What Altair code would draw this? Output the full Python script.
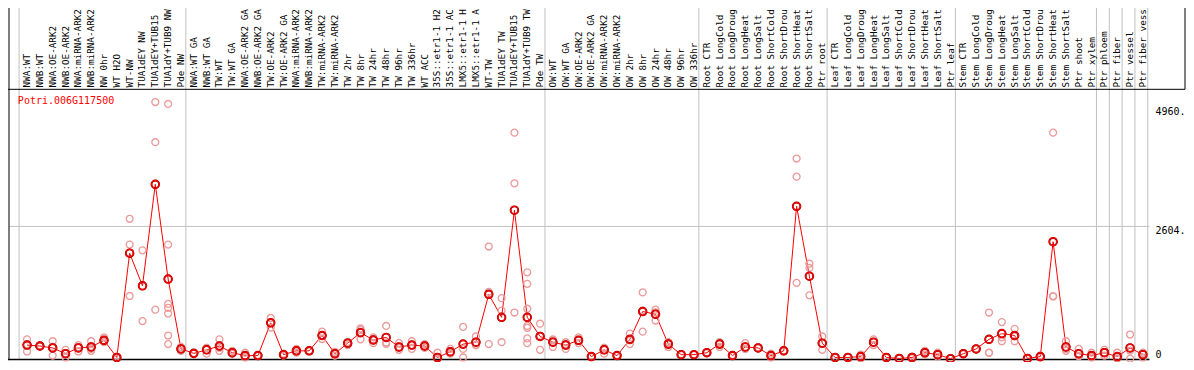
import altair as alt
import pandas as pd

# ---------------- data ----------------
categories = [
    "NWA:WT", "NWB:WT", "NWA:OE-ARK2", "NWB:OE-ARK2", "NWA:miRNA-ARK2", "NWB:miRNA-ARK2",
    "NW 0hr", "WT H2O", "WT-NW", "TUA1dEY NW", "TUA1dEY+TUB15", "TUA1dY+TUB9 NW", "Pde NW",
    "NWA:WT GA", "NWB:WT GA", "TW:WT", "TW:WT GA", "NWA:OE-ARK2 GA", "NWB:OE-ARK2 GA",
    "TW:OE-ARK2", "TW:OE-ARK2 GA", "NWA:miRNA-ARK2", "NWB:miRNA-ARK2", "TW:miRNA-ARK2",
    "TW:miRNA-ARK2", "TW 2hr", "TW 8hr", "TW 24hr", "TW 48hr", "TW 96hr", "TW 336hr",
    "WT ACC", "35S::etr1-1 H2", "35S::etr1-1 AC", "LMX5::etr1-1 H", "LMX5::etr1-1 A",
    "WT-TW", "TUA1dEY TW", "TUA1dEY+TUB15", "TUA1dY+TUB9 TW", "Pde TW",
    "OW:WT", "OW:WT GA", "OW:OE-ARK2", "OW:OE-ARK2 GA", "OW:miRNA-ARK2", "OW:miRNA-ARK2",
    "OW 2hr", "OW 8hr", "OW 24hr", "OW 48hr", "OW 96hr", "OW 336hr",
    "Root CTR", "Root LongCold", "Root LongDroug", "Root LongHeat", "Root LongSalt",
    "Root ShortCold", "Root ShortDrou", "Root ShortHeat", "Root ShortSalt", "Ptr root",
    "Leaf CTR", "Leaf LongCold", "Leaf LongDroug", "Leaf LongHeat", "Leaf LongSalt",
    "Leaf ShortCold", "Leaf ShortDrou", "Leaf ShortHeat", "Leaf ShortSalt", "Ptr leaf",
    "Stem CTR", "Stem LongCold", "Stem LongDroug", "Stem LongHeat", "Stem LongSalt",
    "Stem ShortCold", "Stem ShortDrou", "Stem ShortHeat", "Stem ShortSalt", "Ptr shoot",
    "Ptr xylem", "Ptr phloem", "Ptr fiber", "Ptr vessel", "Ptr fiber vess",
]

means = [
    267, 249, 211, 98, 211, 230, 362, 23, 2076, 1435,
    3433, 1567, 192, 104, 173, 249, 117, 60, 60, 706,
    79, 154, 154, 456, 98, 305, 512, 367, 418, 230,
    267, 249, 23, 136, 286, 324, 1266, 814, 2924, 814,
    437, 324, 267, 362, 41, 173, 60, 380, 927, 876,
    286, 79, 79, 117, 286, 60, 230, 211, 60, 154,
    2999, 1624, 305, 23, 23, 41, 324, 23, 4, 23,
    117, 79, 0, 98, 192, 380, 494, 456, 4, 41,
    2302, 230, 98, 60, 117, 41, 211, 79,
]

replicates = [
    [380, 141, 280], [260, 240, 249], [343, 60, 230], [173, 23, 98], [267, 141, 225],
    [343, 154, 193], [418, 324, 345], [40, 10, 20], [2754, 2246, 1234], [2133, 739],
    [5053, 4262, 965], [5015, 2246, 1078, 1002, 889, 456, 286], [230, 155, 192],
    [104, 110, 98], [98, 210, 211], [380, 154, 213], [154, 98, 100], [117, 23, 40],
    [60, 70, 50], [801, 612, 706], [60, 79, 98], [192, 117, 154], [154, 160, 148],
    [531, 386, 451], [136, 60, 98], [324, 267, 324], [562, 380, 594], [418, 305, 378],
    [644, 317, 293], [305, 173, 212], [343, 192, 266], [249, 211, 287], [117, 0, 0],
    [192, 98, 118], [625, 192, 23], [437, 267, 268], [2208, 1315, 286], [1191, 946, 324],
    [4450, 3451, 908], [1699, 1473, 983, 644, 607, 399, 305], [688, 173, 450],
    [380, 230, 362], [324, 192, 285], [418, 362, 306], [41, 50, 32], [211, 98, 210],
    [60, 70, 50], [494, 286, 360], [1304, 531, 946], [965, 750, 913], [324, 230, 304],
    [79, 70, 88], [79, 85, 73], [117, 110, 124], [324, 230, 304], [60, 50, 70],
    [305, 192, 193], [211, 220, 202], [23, 60, 97], [154, 160, 148], [3941, 3583, 1492],
    [1869, 1786, 1247], [437, 173, 305], [23, 30, 16], [23, 20, 26], [79, 41, 3],
    [380, 324, 268], [23, 30, 16], [4, 10, 0], [23, 40, 6], [154, 117, 80],
    [117, 41, 79], [0, 10, 0], [98, 110, 86], [192, 200, 184], [908, 117, 115],
    [720, 343, 420], [588, 343, 437], [4, 0, 8], [41, 60, 22], [4450, 1228, 1228],
    [343, 154, 193], [192, 50, 52], [117, 23, 40], [173, 60, 118], [117, 6, 0],
    [475, 0, 158], [117, 23, 97],
]

group_ends = [-1, 12, 40, 52, 62, 72, 83, 84, 85, 86, 87]   # last index of each group
tick_values = [2604, 4960]
tick_labels = ["2604.", "4960."]
zero_value = [0]
zero_label = ["0"]
gene = "Potri.006G117500"

# ---------------- geometry ----------------
sx = 1178 / 1194
sy = 354 / 370
pad_left = 1 * sx
pad_top = 85 * sy
plot_w = (1157 - 1) * sx
plot_h = (368 - 85) * sy
pad_right = 1178 - pad_left - plot_w
pad_bottom = 354 - pad_top - plot_h

xscale = alt.Scale(domain=[-1.408, 87.515], nice=False, zero=False)
yscale = alt.Scale(domain=[-28.3, 5303], nice=False, zero=False)

mono = "DejaVu Sans Mono"
grey = "#c0c0c0"

df_mean = pd.DataFrame({"idx": list(range(len(categories))), "cat": categories, "mean": means})
rep_rows = [{"idx": i, "value": v} for i, reps in enumerate(replicates) for v in reps]
df_rep = pd.DataFrame(rep_rows)
df_sep = pd.DataFrame({"pos": [g + 0.38 for g in group_ends]})
df_tick = pd.DataFrame({"v": tick_values, "label": tick_labels})
df_zero = pd.DataFrame({"v": zero_value, "label": zero_label})
dummy = pd.DataFrame({"a": [0]})

X = lambda f: alt.X(f, scale=xscale, axis=None)
Y = lambda f: alt.Y(f, scale=yscale, axis=None)

seps = alt.Chart(df_sep).mark_rule(color=grey, strokeWidth=1).encode(
    x=X("pos:Q"), y=alt.value(-pad_top), y2=alt.value(plot_h)
)

grid = alt.Chart(df_tick.iloc[[0]]).mark_rule(color=grey, strokeWidth=1).encode(
    y=Y("v:Q"), x=alt.value(0), x2=alt.value(plot_w)
)

frame_top = alt.Chart(dummy).mark_rule(color="black", strokeWidth=1).encode(
    y=alt.value(0), x=alt.value(-pad_left), x2=alt.value(1192 * sx)
)
frame_right = alt.Chart(dummy).mark_rule(color="black", strokeWidth=1).encode(
    x=alt.value(1192 * sx), y=alt.value(-pad_top), y2=alt.value(0)
)
frame_left = alt.Chart(dummy).mark_rule(color="black", strokeWidth=1).encode(
    x=alt.value(0), y=alt.value(-pad_top), y2=alt.value(plot_h)
)
frame_bottom = alt.Chart(dummy).mark_rule(color="black", strokeWidth=1.5).encode(
    y=alt.value(plot_h - 0.5), x=alt.value(-pad_left), x2=alt.value(plot_w)
)

line = alt.Chart(df_mean).mark_line(color="#ff0000", strokeWidth=1).encode(
    x=X("idx:Q"), y=Y("mean:Q")
)

reps = alt.Chart(df_rep).mark_point(
    shape="circle", filled=False, color="#eb9a9a", size=48, strokeWidth=1.3, opacity=1
).encode(x=X("idx:Q"), y=Y("value:Q"))

mean_dark = alt.Chart(df_mean).mark_point(
    shape="circle", filled=False, color="#8a0000", size=58, strokeWidth=1.9, opacity=1
).encode(x=X("idx:Q"), y=Y("mean:Q"))

mean_pts = alt.Chart(df_mean).mark_point(
    shape="circle", filled=False, color="#ff0000", size=58, strokeWidth=1.3, opacity=1
).encode(x=X("idx:Q"), y=Y("mean:Q"))

labels = alt.Chart(df_mean).mark_text(
    angle=270, align="left", baseline="middle", font=mono, fontSize=9.3, color="black"
).encode(x=X("idx:Q"), y=alt.value(-2 * sy), text="cat:N")

title = alt.Chart(pd.DataFrame({"t": [gene]})).mark_text(
    align="left", baseline="middle", font=mono, fontSize=10, color="#ff0000"
).encode(x=alt.value(9 * sx), y=alt.value(11.7 * sy), text="t:N")

ylabels = alt.Chart(df_tick).mark_text(
    align="left", baseline="top", font=mono, fontSize=10, color="black"
).encode(x=alt.value(plot_w + 6 * sx), y=Y("v:Q"), text="label:N")

zlabel = alt.Chart(df_zero).mark_text(
    align="left", baseline="alphabetic", font=mono, fontSize=10, color="black", dy=-1
).encode(x=alt.value(plot_w + 6 * sx), y=Y("v:Q"), text="label:N")

chart = alt.layer(
    seps, grid, frame_top, frame_right, frame_left, frame_bottom,
    line, reps, mean_dark, mean_pts, labels, title, ylabels, zlabel
).properties(
    width=plot_w,
    height=plot_h,
    padding={"left": pad_left, "top": pad_top, "right": pad_right, "bottom": pad_bottom},
    autosize=alt.AutoSizeParams(type="none"),
    background="white",
).configure_view(strokeWidth=0)

chart.save("out.html", embed_options={"renderer": "svg", "actions": False})
